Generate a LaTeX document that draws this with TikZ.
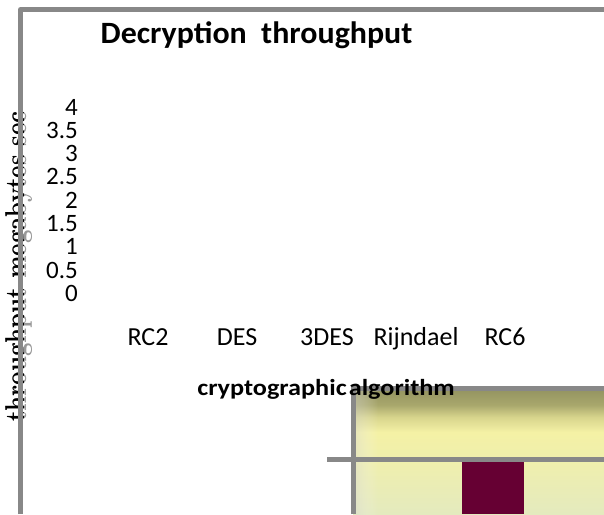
\documentclass[tikz,border=0pt]{standalone}
\usepackage{fontspec}
\setmainfont{Carlito}
\usetikzlibrary{fadings}
\definecolor{framegray}{RGB}{136,136,136}
\definecolor{barmaroon}{RGB}{102,0,51}
\definecolor{oliveT}{RGB}{150,150,98}
\definecolor{oliveA}{RGB}{168,167,108}
\definecolor{oliveM}{RGB}{215,212,140}
\definecolor{paleY}{RGB}{244,241,165}
\definecolor{paleM}{RGB}{240,239,172}
\definecolor{paleB}{RGB}{228,234,190}
% path box maps to 25bp..75bp of the shading
\pgfdeclareverticalshading{boxshade}{100bp}{color(0bp)=(paleB); color(25bp)=(paleB); color(46.8bp)=(paleM); color(57.5bp)=(paleY); color(63.5bp)=(oliveM); color(68.3bp)=(oliveA); color(73.8bp)=(oliveT); color(100bp)=(oliveT)}
\tikzset{
  frameline/.style={draw=framegray, line width=5pt},
  ticklab/.style={anchor=base east, inner sep=0pt, font=\fontsize{25}{25}\selectfont},
  catlab/.style={anchor=base, inner sep=0pt, font=\fontsize{26}{26}\selectfont},
  titlelab/.style={anchor=base, inner sep=0pt, font=\bfseries\fontsize{31}{31}\selectfont},
  axtitle/.style={anchor=base, inner sep=0pt, font=\bfseries\fontsize{23}{23}\selectfont},
  ylab/.style={anchor=base, inner sep=0pt, rotate=90, font=\fontspec{Latin Modern Roman}\bfseries\fontsize{24}{24}\selectfont},
}
\begin{document}
\begin{tikzpicture}[x=1pt,y=-1pt]
\useasboundingbox (0,0) rectangle (604,514);
% plot box (lower right)
\shade[shading=boxshade] (353,388) rectangle (604,514);
\shade[left color=white!70!gray, right color=white, path fading=east, opacity=0.4] (356,391) rectangle (378,514);
\node[fill=barmaroon, inner sep=0pt, minimum width=62pt, minimum height=54pt, anchor=north west] (bar) at (462,460) {};
\coordinate (hl) at (327,459);
\coordinate (hr) at (604,459);
\draw[frameline] (hl) -- (hr);
\coordinate (bl) at (353,514);
\coordinate (bt) at (353,388);
\coordinate (br) at (604,388);
\draw[frameline, line join=miter] (bl) -- (bt) -- (br);
% y axis label
\begin{scope}
\node[ylab, opacity=0.4] (ylabA) at (26.5,266.5) {\scalebox{1}[1.25]{throughput megabytes sec}};
\end{scope}
\begin{scope}
\clip (0,0) rectangle (23,514);
\node[ylab] (ylabB) at (26.5,266.5) {\scalebox{1}[1.25]{throughput megabytes sec}};
\end{scope}
% outer frame
\coordinate (fb) at (20.5,514);
\coordinate (fc) at (20.5,9.5);
\coordinate (fr) at (604,9.5);
\draw[frameline, line join=round] (fb) -- (fc) -- (fr);
% title
\node[titlelab] (title) at (256.5,43) {\scalebox{1.03}[1]{Decryption\ \ throughput}};
% ticks
\node[ticklab] (t4) at (78,115) {4};
\node[ticklab] (t35) at (78,138.3) {3.5};
\node[ticklab] (t3) at (78,161.6) {3};
\node[ticklab] (t25) at (78,184.9) {2.5};
\node[ticklab] (t2) at (78,208.2) {2};
\node[ticklab] (t15) at (78,231.5) {1.5};
\node[ticklab] (t1) at (78,254.8) {1};
\node[ticklab] (t05) at (78,278.1) {0.5};
\node[ticklab] (t0) at (78,301.4) {0};
% categories
\node[catlab] (c1) at (148,345) {RC2};
\node[catlab] (c2) at (237,345) {DES};
\node[catlab] (c3) at (327,345) {3DES};
\node[catlab] (c4) at (416,345) {Rijndael};
\node[catlab] (c5) at (505,345) {RC6};
% x axis title
\node[axtitle] (xt) at (326,395) {\scalebox{1.14}[1]{cryptographic\hspace{0.08em}algorithm}};
\end{tikzpicture}
\end{document}
